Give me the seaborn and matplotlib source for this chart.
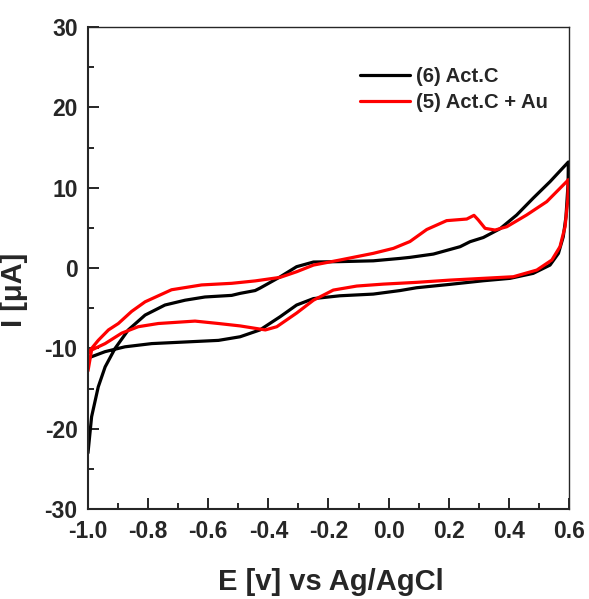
import numpy as np
import pandas as pd
import matplotlib
matplotlib.use('Agg')
import matplotlib.pyplot as plt
from matplotlib.ticker import MultipleLocator
import seaborn as sns

# ── Data ──────────────────────────────────────────────────────────────────────
# (6) Act.C : forward scan then reverse scan
act_c_E = [-1.0, -0.988, -0.966, -0.943, -0.910, -0.866, -0.810, -0.744, -0.677, -0.611,
           -0.522, -0.494, -0.444, -0.428, -0.361, -0.306, -0.250, -0.162, -0.051, 0.038,
           0.071, 0.149, 0.238, 0.271, 0.315, 0.371, 0.426, 0.481, 0.537, 0.598,
           0.597, 0.590, 0.581, 0.565, 0.537, 0.481, 0.404, 0.315, 0.204, 0.093,
           0.038, -0.051, -0.162, -0.250, -0.306, -0.361, -0.428, -0.494, -0.566, -0.677,
           -0.788, -0.877, -0.943, -1.0]
act_c_I = [-23.0, -18.5, -14.8, -12.3, -10.0, -7.7, -5.85, -4.6, -4.0, -3.6,
           -3.4, -3.15, -2.8, -2.5, -1.1, 0.17, 0.75, 0.8, 0.9, 1.2,
           1.33, 1.74, 2.66, 3.28, 3.8, 4.9, 6.6, 8.7, 10.75, 13.2,
           10.5, 6.4, 3.9, 1.83, 0.37, -0.66, -1.28, -1.58, -2.03, -2.45,
           -2.8, -3.24, -3.45, -3.8, -4.6, -6.06, -7.7, -8.55, -9.0, -9.2,
           -9.4, -9.8, -10.4, -11.2]

# (5) Act.C + Au : forward scan then reverse scan
act_c_au_E = [-1.0, -0.988, -0.966, -0.932, -0.899, -0.855, -0.810, -0.722, -0.622, -0.522,
              -0.444, -0.361, -0.306, -0.250, -0.162, -0.051, 0.016, 0.071, 0.127, 0.193,
              0.260, 0.284, 0.298, 0.321, 0.354, 0.393, 0.459, 0.526, 0.592, 0.598,
              0.596, 0.587, 0.570, 0.543, 0.493, 0.415, 0.315, 0.204, 0.093, -0.018,
              -0.106, -0.184, -0.250, -0.306, -0.372, -0.410, -0.494, -0.566, -0.644, -0.766,
              -0.833, -0.888, -0.943, -0.988, -1.0]
act_c_au_I = [-10.6, -10.0, -9.0, -7.7, -6.9, -5.4, -4.2, -2.7, -2.1, -1.9,
              -1.6, -1.16, -0.46, 0.37, 1.0, 1.83, 2.45, 3.3, 4.8, 5.9,
              6.1, 6.56, 6.0, 4.94, 4.73, 5.14, 6.6, 8.26, 10.75, 11.0,
              8.5, 5.14, 2.65, 1.0, -0.25, -1.08, -1.28, -1.5, -1.78, -2.0,
              -2.24, -2.74, -4.0, -5.6, -7.3, -7.7, -7.2, -6.9, -6.6, -6.9,
              -7.3, -8.1, -9.4, -10.2, -12.8]

labels = ['(6) Act.C', '(5) Act.C + Au']
colors = ['black', 'red']

# ── Style ─────────────────────────────────────────────────────────────────────
sns.set_style('ticks')
plt.rcParams['font.family'] = ['Liberation Sans', 'DejaVu Sans']
plt.rcParams['font.weight'] = 'bold'
plt.rcParams['axes.unicode_minus'] = False

fig = plt.figure(figsize=(5.89, 5.99), dpi=100)
ax = fig.add_axes([0.1494, 0.150, 0.8166, 0.805])

df_c = pd.DataFrame({'E': act_c_E, 'I': act_c_I})
df_au = pd.DataFrame({'E': act_c_au_E, 'I': act_c_au_I})

sns.lineplot(data=df_c, x='E', y='I', sort=False, estimator=None, color=colors[0],
             lw=2.3, label=labels[0], ax=ax)
sns.lineplot(data=df_au, x='E', y='I', sort=False, estimator=None, color=colors[1],
             lw=2.3, label=labels[1], ax=ax)

ax.set_xlim(-1.0, 0.6)
ax.set_ylim(-30, 30)
ax.xaxis.set_major_locator(MultipleLocator(0.2))
ax.xaxis.set_minor_locator(MultipleLocator(0.1))
ax.yaxis.set_major_locator(MultipleLocator(10))
ax.yaxis.set_minor_locator(MultipleLocator(5))
ax.set_xticklabels([f'{v:.1f}' for v in ax.get_xticks()])

ax.tick_params(which='major', direction='in', length=7.7, width=1.4, pad=7.5,
               labelsize=16.5, top=False, right=False)
ax.tick_params(which='minor', direction='in', length=4.3, width=1.4, top=False, right=False)
for lab in ax.get_xticklabels() + ax.get_yticklabels():
    lab.set_fontweight('bold')

for side in ['left', 'bottom']:
    ax.spines[side].set_linewidth(1.5)
for side in ['top', 'right']:
    ax.spines[side].set_linewidth(1.0)

ax.set_xlabel('E [v] vs Ag/AgCl', fontsize=21, fontweight='bold')
ax.set_ylabel('I [μA]', fontsize=21, fontweight='bold')
ax.xaxis.set_label_coords(0.505, -0.122)
ax.yaxis.set_label_coords(-0.125, 0.454)

leg = ax.legend(loc='upper left', bbox_to_anchor=(0.565, 0.917), frameon=False,
                fontsize=14.6, handlelength=2.5, handletextpad=0.25, labelspacing=0.35,
                borderpad=0, borderaxespad=0)
for t in leg.get_texts():
    t.set_fontweight('bold')

fig.savefig('out.png', dpi=100)
